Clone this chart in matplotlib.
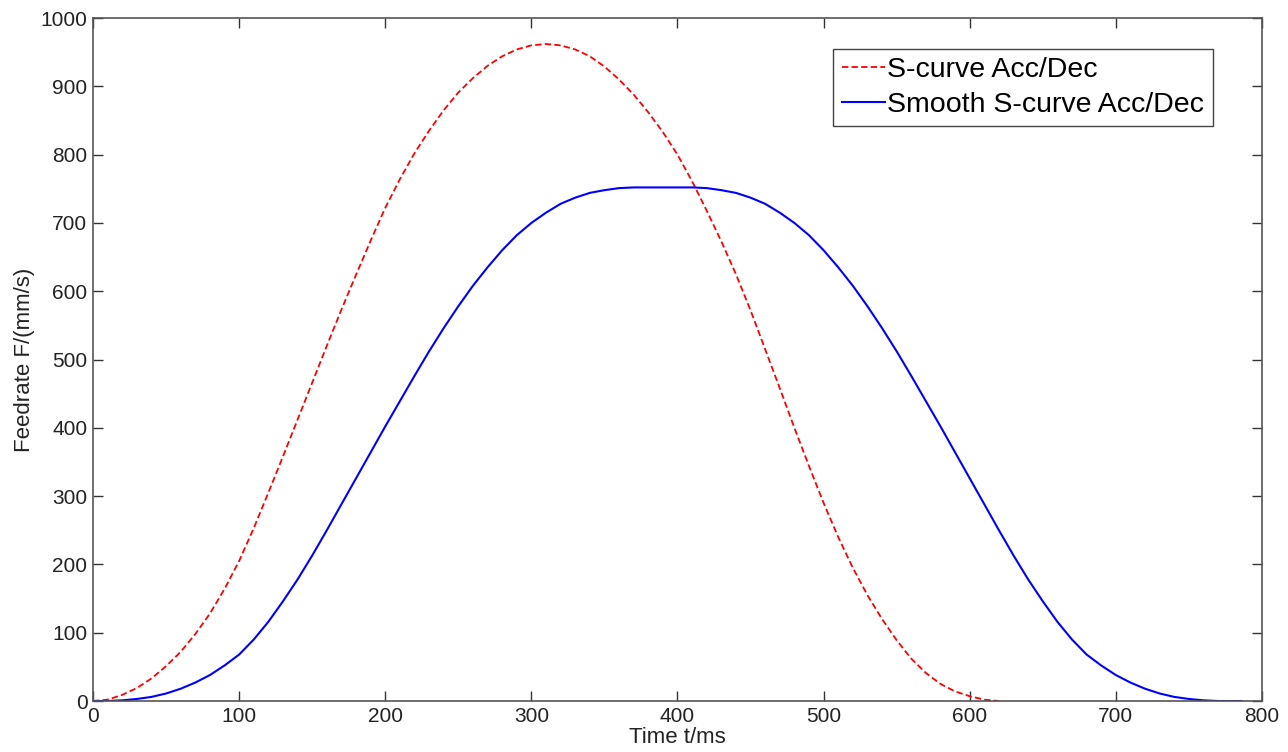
import matplotlib
matplotlib.use("Agg")
import matplotlib.pyplot as plt

plt.rcParams['font.family'] = ['Liberation Sans', 'DejaVu Sans']

# S-curve Acc/Dec: time (ms) and feedrate (mm/s)
t_s = [0, 10, 20, 30, 40, 50, 60, 70, 80, 90, 100, 110, 120, 130, 140, 150, 160,
       170, 180, 190, 200, 210, 220, 230, 240, 250, 260, 270, 280, 290, 300, 310,
       320, 330, 340, 350, 360, 370, 380, 390, 400, 410, 420, 430, 440, 450, 460,
       470, 480, 490, 500, 510, 520, 530, 540, 550, 560, 570, 580, 590, 600, 610, 620]
f_s = [0, 2, 9, 19, 33, 51, 72, 98, 128, 164, 205, 253, 305, 358, 412, 466, 520,
       573, 624, 674, 722, 764, 802, 835, 865, 891, 912, 930, 944, 954, 960, 962,
       960, 954, 944, 929, 910, 888, 862, 833, 800, 761, 718, 673, 625, 572, 515,
       458, 400, 344, 290, 240, 195, 155, 120, 89, 62, 41, 25, 14, 7, 2, 0]

# Smooth S-curve Acc/Dec: time (ms) and feedrate (mm/s)
t_ss = [0, 10, 20, 30, 40, 50, 60, 70, 80, 90, 100, 110, 120, 130, 140, 150, 160,
        170, 180, 190, 200, 210, 220, 230, 240, 250, 260, 270, 280, 290, 300, 310,
        320, 330, 340, 350, 360, 370, 380, 390, 400, 410, 420, 430, 440, 450, 460,
        470, 480, 490, 500, 510, 520, 530, 540, 550, 560, 570, 580, 590, 600, 610,
        620, 630, 640, 650, 660, 670, 680, 690, 700, 710, 720, 730, 740, 750, 760,
        770, 780, 786]
f_ss = [0, 0, 1, 3, 6, 11, 18, 27, 38, 52, 68, 90, 116, 146, 178, 213, 250,
        288, 326, 364, 402, 439, 476, 512, 546, 578, 608, 635, 660, 682, 700, 715,
        728, 737, 744, 748, 751, 752, 752, 752, 752, 752, 751, 748, 744, 737, 728,
        715, 700, 682, 660, 635, 608, 578, 546, 512, 476, 439, 402, 364, 326, 288,
        250, 213, 178, 146, 116, 90, 68, 52, 38, 27, 18, 11, 6, 3, 1,
        0, 0, 0]

labels = ['S-curve Acc/Dec', 'Smooth S-curve Acc/Dec']
x_ticks = [0, 100, 200, 300, 400, 500, 600, 700, 800]
y_ticks = [0, 100, 200, 300, 400, 500, 600, 700, 800, 900, 1000]

fig = plt.figure(figsize=(12.88, 7.52), dpi=100)
ax = fig.add_axes([0.0722, 0.0678, 0.9076, 0.9082])

ax.plot(t_s, f_s, color='#ff0000', lw=1.3, dashes=(3.5, 1.8), label=labels[0])
ax.plot(t_ss, f_ss, color='#0000ff', lw=1.5, label=labels[1])

ax.set_xlim(0, 800)
ax.set_ylim(0, 1000)
ax.set_xticks(x_ticks)
ax.set_yticks(y_ticks)
ax.tick_params(direction='in', length=7, width=1.0, top=True, right=True,
               labelsize=15, colors='#333333', labelcolor='#222222', pad=4)
for s in ax.spines.values():
    s.set_color('#555555')
    s.set_linewidth(1.2)

ax.set_xlabel('Time t/ms', fontsize=16, color='#222222', labelpad=1)
ax.set_ylabel('Feedrate F/(mm/s)', fontsize=16, color='#222222', labelpad=4)

leg = ax.legend(loc='upper right', bbox_to_anchor=(0.958, 0.955), borderaxespad=0,
                fontsize=20.5, fancybox=False, framealpha=1, edgecolor='#444444',
                handlelength=1.5, handletextpad=0.1, borderpad=0.3, labelspacing=0.3)
leg.get_frame().set_linewidth(1.0)

fig.savefig('out.png', dpi=100)
